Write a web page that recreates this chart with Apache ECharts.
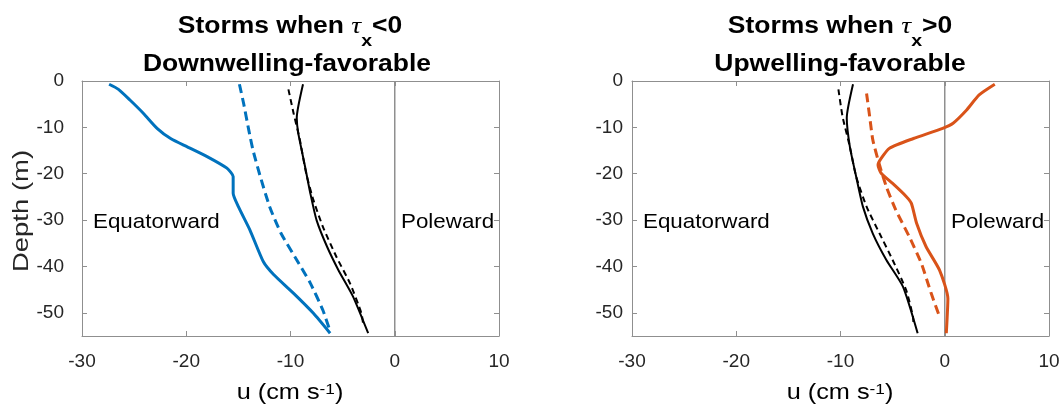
<!DOCTYPE html>
<html>
<head>
<meta charset="utf-8">
<script src="https://cdn.jsdelivr.net/npm/echarts@6/dist/echarts.min.js"></script>
<style>html,body{margin:0;padding:0;background:#fff}#c{width:1064px;height:415px}</style>
</head>
<body>
<div id="c"></div>
<script>
// ---- data (u in cm/s, depth in m) ----
const xTicks = [-30, -20, -10, 0, 10];
const yTicks = [0, -10, -20, -30, -40, -50];

// Left panel: downwelling-favorable storms
const downBlueSolidZ = [-0.7, -1.8, -4.1, -7.0, -10.2, -12.4, -14.2, -16.3, -18.8, -20.6, -22.5, -24.2, -27.1, -32.1, -39.0, -41.8, -45.8, -50.1, -54.4];
const downBlueSolidU = [-27.4, -26.5, -25.4, -24.1, -22.8, -21.5, -19.9, -18.0, -16.1, -15.5, -15.5, -15.5, -15.0, -13.9, -12.6, -11.6, -9.7, -7.8, -6.2];
const downBlueDashZ = [-0.7, -4.8, -10.6, -14.9, -20.6, -27.1, -32.9, -38.6, -43.6, -49.4, -54.0];
const downBlueDashU = [-14.9, -14.5, -14.0, -13.6, -12.9, -12.0, -10.9, -9.4, -8.1, -6.9, -6.2];
const downBlackSolidZ = [-0.7, -8.0, -11.3, -18.5, -24.2, -30.0, -35.7, -40.8, -46.5, -54.4];
const downBlackSolidU = [-8.8, -9.4, -9.25, -8.6, -8.1, -7.5, -6.5, -5.4, -4.0, -2.55];
const downBlackDashZ = [-1.8, -7.0, -12.7, -19.9, -25.7, -31.4, -37.9, -43.6, -50.1, -53.0];
const downBlackDashU = [-10.2, -9.7, -9.1, -8.5, -7.8, -6.9, -5.6, -4.3, -3.2, -3.0];

// Right panel: upwelling-favorable storms
const upOrangeSolidZ = [-0.7, -3.0, -6.25, -9.1, -10.2, -12.4, -14.5, -16.7, -18.1, -19.9, -22.1, -24.9, -26.4, -30.7, -35.7, -40.8, -46.9, -54.4];
const upOrangeSolidU = [4.8, 3.3, 2.1, 0.8, -0.2, -3.0, -5.3, -6.1, -6.4, -6.1, -5.0, -3.7, -3.2, -2.7, -1.8, -0.5, 0.3, 0.15];
const upOrangeDashZ = [-2.7, -7.7, -12.7, -17.8, -22.8, -27.8, -33.6, -39.3, -45.8, -50.8];
const upOrangeDashU = [-7.5, -7.2, -6.9, -6.3, -5.6, -4.7, -3.4, -2.25, -1.3, -0.5];
const upBlackSolidZ = [-0.7, -8.0, -14.2, -20.6, -27.1, -32.9, -38.6, -44.4, -54.4];
const upBlackSolidU = [-8.8, -9.4, -9.1, -8.5, -7.85, -6.9, -5.6, -4.0, -2.6];
const upBlackDashZ = [-1.8, -7.7, -14.2, -20.6, -27.1, -32.9, -38.6, -45.1, -50.8, -52.5];
const upBlackDashU = [-10.2, -9.8, -9.1, -8.5, -7.5, -6.25, -5.0, -3.7, -3.05, -3.0];

const zeroLineZ = [0, -55];
const zeroLineU = [0, 0];

// ---- styling ----
const BLUE = '#0072BD', ORANGE = '#D95319', BLACK = '#000000';
const AXC = '#8f8f8f', TXT = '#262626';
const TICK_FONT = '"Liberation Sans Narrow", "Liberation Sans", Arial, sans-serif';
const BODY_FONT = '"Liberation Sans", Arial, sans-serif';

function pairs(u, z) { return u.map((v, i) => [v, z[i]]); }

function xAx(grid, pos, labels) {
  return {
    type: 'value', gridIndex: grid, position: pos, min: -30, max: 10, interval: 10,
    axisLine: { show: true, onZero: false, lineStyle: { color: AXC, width: 1 } },
    axisTick: { show: true, inside: true, length: 5, lineStyle: { color: AXC } },
    axisLabel: { show: labels, margin: 16, fontSize: 19, color: TXT, fontFamily: TICK_FONT,
      formatter: v => xTicks.includes(v) ? String(v) : '' },
    splitLine: { show: false }
  };
}
function yAx(grid, pos, labels, margin) {
  return {
    type: 'value', gridIndex: grid, position: pos, min: -55, max: 0,
    axisLine: { show: true, onZero: false, lineStyle: { color: AXC, width: 1 } },
    axisTick: { show: true, inside: true, length: 5, customValues: yTicks, lineStyle: { color: AXC } },
    axisLabel: { show: labels, margin: margin, fontSize: 19, color: TXT, fontFamily: TICK_FONT, customValues: yTicks },
    splitLine: { show: false }
  };
}
function line(xi, yi, u, z, color, width, dash, zlev, smooth) {
  return {
    type: 'line', xAxisIndex: xi, yAxisIndex: yi, data: pairs(u, z),
    showSymbol: false, symbol: 'none', smooth: smooth || false, silent: true, z: zlev,
    lineStyle: { color: color, width: width, type: dash ? (color === BLACK ? [6, 4] : [9, 5]) : 'solid', cap: 'butt', join: 'round' }
  };
}

const chart = echarts.init(document.getElementById('c'), null, { renderer: 'canvas' });

const titleRich = {
  a: { fontSize: 23, fontWeight: 'bold', fontFamily: BODY_FONT, color: '#000', lineHeight: 28, verticalAlign: 'top' },
  t: { fontSize: 24, fontStyle: 'italic', fontFamily: '"Liberation Serif", "DejaVu Serif", serif', color: '#000', lineHeight: 28, verticalAlign: 'top' },
  s: { fontSize: 17, fontWeight: 'bold', fontFamily: BODY_FONT, color: '#000', lineHeight: 17, padding: [18, 0, 0, 0], verticalAlign: 'top' }
};
const nameRich = {
  a: { fontSize: 22, fontFamily: BODY_FONT, color: TXT, lineHeight: 30, verticalAlign: 'top' },
  p: { fontSize: 15, fontFamily: BODY_FONT, color: TXT, lineHeight: 10, verticalAlign: 'top' }
};

function txt(x, y, text, opts) {
  return Object.assign({
    type: 'text', x: x, y: y, silent: true,
    style: Object.assign({ text: text, align: 'center', verticalAlign: 'top', textAlign: 'center', textVerticalAlign: 'top' }, opts.style)
  }, opts.extra || {});
}

const SX = 1.065, TSX = 1.15;
const sideText = { fontSize: 21, fontFamily: BODY_FONT, fill: '#000', align: 'left', textAlign: 'left', verticalAlign: 'middle', textVerticalAlign: 'middle' };
chart.setOption({
  animation: false,
  backgroundColor: '#ffffff',
  grid: [
    { left: 82, top: 81, width: 417, height: 255 },
    { left: 632, top: 81, width: 417, height: 255 }
  ],
  xAxis: [xAx(0, 'bottom', true), xAx(0, 'top', false), xAx(1, 'bottom', true), xAx(1, 'top', false)],
  yAxis: [yAx(0, 'left', true, 18), yAx(0, 'right', false, 8), yAx(1, 'left', true, 9), yAx(1, 'right', false, 8)],
  series: [
    line(0, 0, zeroLineU, zeroLineZ, AXC, 1.5, false, 1),
    line(0, 0, downBlackDashU, downBlackDashZ, BLACK, 2, true, 2, 0.2),
    line(0, 0, downBlackSolidU, downBlackSolidZ, BLACK, 2, false, 2, 0.2),
    line(0, 0, downBlueDashU, downBlueDashZ, BLUE, 3, true, 3, 0.2),
    line(0, 0, downBlueSolidU, downBlueSolidZ, BLUE, 3, false, 3, 0.2),
    line(2, 2, zeroLineU, zeroLineZ, AXC, 1.5, false, 1),
    line(2, 2, upBlackDashU, upBlackDashZ, BLACK, 2, true, 2, 0.2),
    line(2, 2, upBlackSolidU, upBlackSolidZ, BLACK, 2, false, 2, 0.2),
    line(2, 2, upOrangeDashU, upOrangeDashZ, ORANGE, 3, true, 3, 0.2),
    line(2, 2, upOrangeSolidU, upOrangeSolidZ, ORANGE, 3, false, 3, 0.2)
  ],
  graphic: [
    txt(290, 15, '{a|Storms when }{t|τ}{s|x}{a|<0}', { style: { rich: titleRich }, extra: { scaleX: TSX } }),
    txt(287, 53, '{a|Downwelling-favorable}', { style: { rich: titleRich }, extra: { scaleX: TSX } }),
    txt(840, 15, '{a|Storms when }{t|τ}{s|x}{a|>0}', { style: { rich: titleRich }, extra: { scaleX: TSX } }),
    txt(840, 53, '{a|Upwelling-favorable}', { style: { rich: titleRich }, extra: { scaleX: TSX } }),
    txt(290, 382, '{a|u (cm s}{p|-1}{a|)}', { style: { rich: nameRich }, extra: { scaleX: 1.15 } }),
    txt(840, 382, '{a|u (cm s}{p|-1}{a|)}', { style: { rich: nameRich }, extra: { scaleX: 1.15 } }),
    txt(22, 211, 'Depth (m)', { style: { fontSize: 22, fontFamily: BODY_FONT, fill: TXT, verticalAlign: 'middle', textVerticalAlign: 'middle' }, extra: { rotation: Math.PI / 2, scaleX: 1.25 } }),
    txt(93, 222, 'Equatorward', { style: sideText, extra: { scaleX: SX } }),
    txt(401, 222, 'Poleward', { style: sideText, extra: { scaleX: SX } }),
    txt(643, 222, 'Equatorward', { style: sideText, extra: { scaleX: SX } }),
    txt(951, 222, 'Poleward', { style: sideText, extra: { scaleX: SX } })
  ]
});
</script>
</body>
</html>
